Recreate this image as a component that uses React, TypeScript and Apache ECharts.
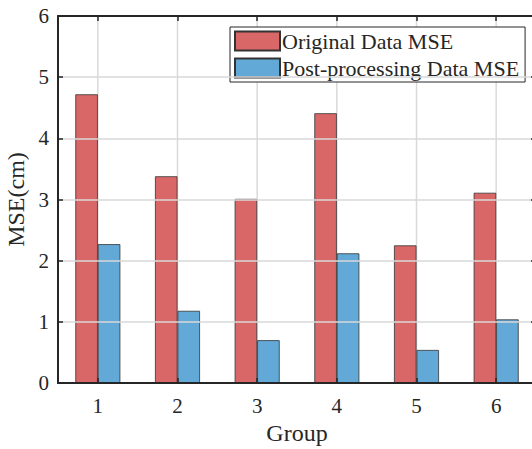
import React, { useEffect, useRef } from "react";
import * as echarts from "echarts";

const categories = ["1", "2", "3", "4", "5", "6"];
const originalMSE = [4.72, 3.38, 3.01, 4.41, 2.25, 3.11];
const postMSE = [2.27, 1.18, 0.7, 2.12, 0.54, 1.04];
const seriesNames = ["Original Data MSE", "Post-processing Data MSE"];

const FONT = "'Liberation Serif', 'Times New Roman', serif";
const INK = "#262626";
const GRID = "#d9d9d9";

export default function App() {
  const ref = useRef<HTMLDivElement>(null);
  useEffect(() => {
    document.body.style.margin = "0";
    const chart = echarts.init(ref.current!, null, { renderer: "svg" });
    chart.setOption({
      animation: false,
      backgroundColor: "#ffffff",
      textStyle: { fontFamily: FONT, color: INK },
      grid: { left: 58, top: 16, bottom: 66, width: 478, outerBoundsMode: "none", containLabel: false },
      legend: {
        orient: "vertical",
        left: 230,
        top: 27,
        itemWidth: 45,
        itemHeight: 19,
        itemGap: 5,
        padding: [3, 6, 3, 4],
        backgroundColor: "#ffffff",
        borderColor: INK,
        borderWidth: 1,
        borderRadius: 0,
        textStyle: { fontFamily: FONT, fontSize: 22, color: INK, padding: [0, 0, 0, -3] },
        icon: "rect",
        data: seriesNames,
      },
      xAxis: [
        {
          type: "category",
          data: categories,
          position: "bottom",
          name: "Group",
          nameLocation: "middle",
          nameGap: 38,
          nameTextStyle: { fontFamily: FONT, fontSize: 24, color: INK },
          axisLine: { show: true, onZero: false, lineStyle: { color: INK, width: 2 } },
          axisTick: { show: true, inside: true, alignWithLabel: true, length: 5, lineStyle: { color: INK, width: 1.5 } },
          axisLabel: { fontFamily: FONT, fontSize: 21, color: INK, margin: 12 },
          splitLine: { show: false },
          z: 10,
        },
        {
          type: "category",
          data: categories,
          position: "top",
          axisLine: { show: true, onZero: false, lineStyle: { color: INK, width: 2 } },
          axisTick: { show: true, inside: true, alignWithLabel: true, length: 5, lineStyle: { color: INK, width: 1.5 } },
          axisLabel: { show: false },
          splitLine: { show: false },
          z: 10,
        },
      ],
      yAxis: [
        {
          type: "value",
          min: 0,
          max: 6,
          interval: 1,
          position: "left",
          name: "MSE(cm)",
          nameLocation: "middle",
          nameGap: 24,
          nameTextStyle: { fontFamily: FONT, fontSize: 24, color: INK },
          axisLine: { show: true, onZero: false, lineStyle: { color: INK, width: 2 } },
          axisTick: { show: true, inside: true, length: 5, lineStyle: { color: INK, width: 1.5 } },
          axisLabel: { fontFamily: FONT, fontSize: 21, color: INK, margin: 9 },
          splitLine: { show: true, lineStyle: { color: GRID, width: 1.5 } },
          z: 10,
        },
        {
          type: "value",
          min: 0,
          max: 6,
          interval: 1,
          position: "right",
          axisLine: { show: true, onZero: false, lineStyle: { color: INK, width: 2 } },
          axisTick: { show: true, inside: true, length: 5, lineStyle: { color: INK, width: 1.5 } },
          axisLabel: { show: false },
          splitLine: { show: false },
          z: 10,
        },
      ],
      series: [
        {
          type: "custom",
          silent: true,
          z: 1,
          data: categories.map((_, i) => [i, 0]),
          encode: { x: 0, y: 1 },
          renderItem: (params: any, api: any) => {
            const x = api.coord([api.value(0), 0])[0];
            const cs = params.coordSys;
            return {
              type: "line",
              shape: { x1: x, y1: cs.y, x2: x, y2: cs.y + cs.height },
              style: { stroke: GRID, lineWidth: 1.5 },
            };
          },
        },
        {
          name: seriesNames[0],
          type: "bar",
          data: originalMSE,
          barWidth: 22.5,
          barGap: "0%",
          z: 2,
          itemStyle: { color: "#da6767", borderColor: "#333333", borderWidth: 0.8 },
        },
        {
          name: seriesNames[1],
          type: "bar",
          data: postMSE,
          barWidth: 22.5,
          barGap: "0%",
          z: 2,
          itemStyle: { color: "#62a9d7", borderColor: "#333333", borderWidth: 0.8 },
        },
      ],
    });
    return () => chart.dispose();
  }, []);
  return <div ref={ref} style={{ width: 532, height: 449 }} />;
}
